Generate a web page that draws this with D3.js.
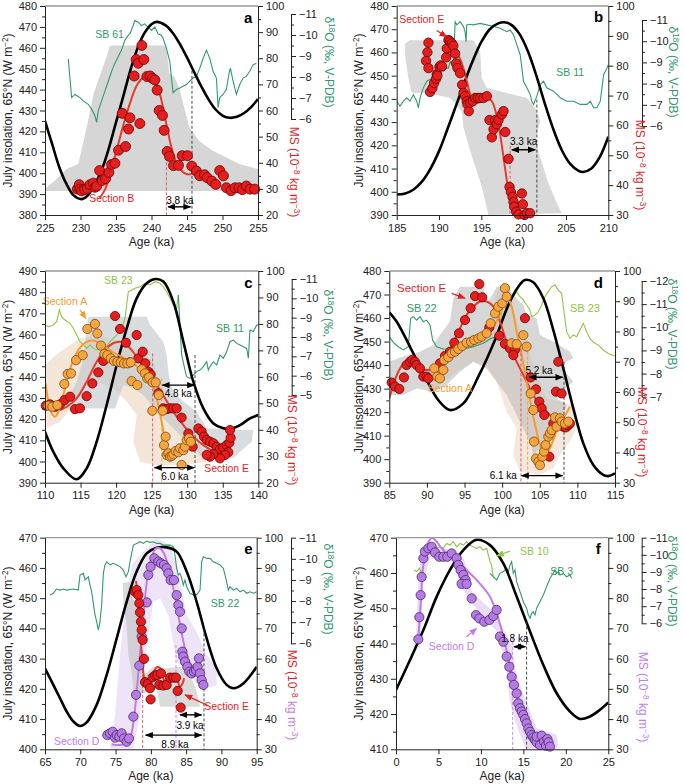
<!DOCTYPE html>
<html><head><meta charset="utf-8">
<script src="https://cdn.jsdelivr.net/npm/d3@7"></script>
<style>body{margin:0;background:#fff}text{font-family:"Liberation Sans",Arial,sans-serif}</style>
</head><body><svg id="c" width="685" height="784"></svg>
<script>
// ================= DATA =================
// Panel a
const a_insol=[[225,425],[226,414],[227,403],[228,395],[229,389.5],[230.2,387.6],[231,389.3],[232,394.5],[233,401.6],[234,412],[235,424.3],[236,436.5],[237,449],[238,459.5],[239,467],[240,471.3],[240.7,472.4],[242,470.7],[243,467.1],[244,461.8],[245,455.4],[246,448.4],[247,441.6],[248,435.5],[249,430.6],[250,427.6],[251,426.5],[252,427],[253,428.7],[254,431.5],[255,435.5]];
const a_sb61=[[228.28,-8.86],[228.75,-7.02],[229.22,-7.17],[229.92,-7.02],[230.39,-6.86],[231.09,-6.7],[231.56,-6.47],[232.03,-6.16],[232.27,-5.84],[232.5,-6.39],[232.97,-6.86],[233.44,-7.33],[233.91,-7.8],[234.38,-8.27],[234.85,-8.66],[235.31,-8.97],[235.78,-9.28],[236.25,-9.75],[236.72,-9.98],[236.96,-10.06],[237.42,-10.45],[237.66,-10.69],[238.13,-10.61],[238.6,-10.45],[239.06,-10.53],[239.53,-10.38],[240.0,-10.22],[240.47,-10.38],[240.94,-10.06],[241.41,-9.98],[241.64,-9.83],[242.11,-9.36],[242.58,-8.73],[242.81,-7.95],[243.05,-7.25],[243.52,-7.41],[243.99,-7.48],[244.46,-7.56],[244.92,-7.64],[245.39,-7.8],[245.86,-7.95],[246.33,-8.03],[246.8,-8.42],[247.27,-8.89],[247.74,-9.28],[248.21,-8.89],[248.68,-8.27],[249.14,-7.95],[249.38,-6.55],[249.61,-7.02],[250.08,-7.17],[250.55,-7.41],[250.93,-8.19],[251.11,-8.42],[251.49,-7.8],[251.96,-7.17],[252.43,-7.64],[252.9,-7.95],[253.36,-8.03],[253.83,-8.27],[254.3,-8.58],[254.77,-8.66]];
const a_ptsB=[[229.55,29.9],[229.83,31.6],[229.92,29.9],[230.16,29.2],[230.58,29.7],[230.95,30.1],[231.33,31.6],[231.8,32.2],[232.03,30.6],[232.27,31.0],[232.69,37.0],[233.06,33.2],[233.53,33.9],[234.0,36.3],[234.38,39.3],[234.85,39.8],[235.36,44.8],[235.88,58.9],[236.35,46.2],[236.77,52.9],[236.96,57.2],[237.56,73.2],[237.85,79.5],[238.13,78.1],[238.36,55.0],[238.64,84.9],[238.92,79.5],[239.35,73.0],[239.81,73.2],[240.14,72.3],[240.47,71.7],[240.8,67.8],[241.08,60.0],[241.55,58.1],[241.78,52.4],[242.2,44.3],[242.53,42.4],[243.1,38.9],[243.8,39.0],[244.32,42.7],[245.07,42.7],[245.68,38.7],[246.33,36.8],[246.8,35.0],[247.46,35.4],[247.83,34.3],[248.49,33.0],[249.05,31.7],[249.61,37.0],[250.13,35.0],[250.55,30.4],[251.2,29.3],[251.77,30.4],[252.33,30.4],[252.8,29.7],[253.36,31.1],[253.88,29.9],[254.54,29.9]];
const a_fitB=[[232.7,26.5],[233.5,30],[234.3,37],[235.2,46],[236.1,55],[237,63],[237.9,69.5],[238.8,72.5],[239.6,73],[240.4,71.5],[241.2,66],[242,56],[242.8,46],[243.6,39.5],[244.4,36.5],[245.2,35.5],[245.9,36]];
const a_shade=[[225,392.6],[226.41,396.5],[228.05,402.0],[229.69,404.4],[230.86,421.7],[231.8,437.5],[232.74,446.9],[233.67,455.6],[234.14,461.1],[242.05,461.1],[242.52,447.7],[243.22,446.1],[243.92,440.6],[244.63,431.2],[245.33,421.7],[246.74,415.4],[248.61,410.7],[250.49,407.6],[252.36,404.4],[255,402.0],[255,391.5],[225,391.5]];

// Panel b
const b_insol=[[185,398.8],[186,399.3],[187,401],[188,404.5],[189,410],[190,417.5],[191,427],[192,437],[193,447],[194,456.5],[195,464.5],[196,470],[197,472.5],[197.7,473],[198.5,472],[199.5,468],[200.5,460.5],[201.5,450],[202.5,438],[203.5,427],[204.5,418],[205.5,412],[206.5,409],[207,408.5],[208,410],[209,415],[210,423.7]];
const b_sb11=[[185,-7.17],[185.39,-6.94],[185.79,-7.17],[186.18,-7.33],[186.58,-7.17],[186.97,-7.48],[187.37,-7.17],[187.56,-6.86],[187.76,-7.33],[188.15,-7.8],[188.55,-8.11],[188.94,-8.19],[189.34,-8.27],[189.73,-8.42],[190.13,-8.73],[190.52,-8.58],[190.91,-8.73],[191.11,-8.73],[191.31,-9.05],[191.7,-8.73],[191.9,-10.92],[192.1,-10.77],[192.49,-10.92],[192.89,-10.69],[193.08,-10.45],[193.2,-9.98],[193.28,-10.77],[193.68,-10.8],[194.07,-10.77],[194.86,-10.84],[195.65,-10.77],[196.44,-10.69],[197.22,-10.61],[198.01,-10.45],[198.41,-10.53],[198.8,-10.3],[199.2,-9.83],[199.59,-9.36],[199.79,-8.73],[199.98,-8.11],[200.38,-7.8],[200.77,-7.48],[200.97,-7.17],[201.17,-7.02],[201.56,-7.41],[201.96,-7.95],[202.35,-8.11],[202.74,-7.8],[203.53,-7.64],[204.32,-7.33],[205.11,-7.17],[205.9,-7.17],[206.69,-7.02],[207.48,-7.02],[207.87,-7.17],[208.27,-6.86],[208.66,-6.86],[209.05,-7.17],[209.45,-8.42],[209.84,-8.73],[210,-8.89]];
const b_ptsE=[[188.75,87.7],[188.63,84.5],[188.47,81.6],[188.75,79.2],[188.94,71.2],[189.22,72.5],[189.42,74.2],[189.65,75.6],[189.73,77.2],[189.81,76.7],[190.05,79.6],[190.2,80.1],[190.36,79.8],[190.84,82.8],[190.91,85.8],[191.11,88.6],[191.31,88.2],[191.51,87.5],[191.7,86.7],[191.9,84.1],[192.02,80.8],[192.18,79.2],[192.49,77.5],[192.73,73.6],[192.89,70.9],[193.08,69.8],[193.28,68.1],[193.36,67.0],[193.52,64.8],[193.68,67.6],[193.99,68.1],[194.27,69.2],[194.58,69.2],[194.86,69.2],[195.25,69.2],[195.65,69.8],[195.96,61.8],[196.24,56.0],[196.44,58.7],[196.63,61.8],[196.83,60.4],[197.03,61.8],[197.42,63.7],[197.62,64.8],[197.82,57.8],[198.21,48.8],[198.33,39.4],[198.49,37.7],[198.68,36.1],[198.8,34.4],[198.88,32.8],[199.12,31.1],[199.39,30.2],[199.79,37.2],[199.91,33.6],[200.1,30],[200.38,30.6],[200.77,30.6]];
const b_fitE=[[190.91,83.6],[191.51,84.9],[192.1,84.1],[192.69,80.8],[193.28,74.8],[193.87,69.2],[194.46,67.6],[195.06,68.1],[195.65,69.2],[196.24,68.1],[196.83,63.1],[197.22,57.1],[197.62,49.3],[198.01,41.6],[198.4,35.0],[198.8,30]];
const b_shade=[[185.99,463.9],[186.58,465.3],[194.07,465.3],[194.86,460.3],[195.06,449.0],[195.65,444.7],[200.38,440.4],[201.36,436.2],[201.96,430.5],[201.36,422.0],[201.96,414.9],[202.94,403.5],[204.12,393.6],[204.52,390.7],[195.84,390],[195.06,402.1],[193.68,417.7],[192.89,427.6],[192.69,434.7],[191.31,440.4],[188.55,442.6],[186.77,442.6],[186.38,449.0],[185.99,458.9]];

// Panel c
const c_insol=[[110,414.1],[111.17,404.6],[112.58,396.8],[114.45,391.6],[115.86,396.8],[117.27,409.4],[118.67,426.7],[120.08,445.6],[121.49,462.9],[122.89,477.1],[124.3,484.2],[125.47,486.2],[126.64,485],[128.05,475.5],[129.46,456.6],[130.86,437.7],[132.27,425.1],[133.68,418],[135.08,415.7],[136.02,415.4],[137.43,417.2],[138.83,420.4],[140,422]];
const c_sb23=[[110,-8.62],[110.47,-8.53],[111.17,-8.62],[111.64,-8.79],[112.02,-9.4],[112.34,-9.05],[112.81,-8.88],[113.52,-8.71],[113.98,-8.45],[114.45,-8.1],[114.92,-7.76],[115.39,-7.59],[115.86,-7.41],[116.33,-7.59],[116.8,-7.41],[117.27,-7.33],[117.74,-7.5],[118.2,-7.59],[118.67,-7.5],[119.14,-7.76],[119.61,-7.93],[120.08,-8.1],[120.55,-8.36],[121.02,-8.71],[121.25,-8.97],[121.72,-10.34],[122.19,-10.43],[122.66,-10.52],[123.36,-10.6],[124.06,-10.78],[124.77,-10.69],[125.47,-10.86],[126.17,-10.78],[126.64,-10.6],[127.11,-10.34],[127.58,-10.0],[128.05,-9.66],[128.52,-9.48],[128.75,-10.17]];
const c_sb11=[[128.75,-10.17],[129.22,-7.07],[129.69,-6.29],[129.93,-5.95],[130.39,-5.86],[130.86,-6.03],[131.33,-6.21],[131.8,-6.29],[132.27,-6.47],[132.74,-6.72],[132.97,-6.29],[133.21,-6.47],[133.68,-6.72],[134.14,-6.55],[134.61,-7.07],[135.08,-6.9],[135.55,-7.24],[136.02,-7.76],[136.49,-7.84],[136.96,-7.67],[137.43,-7.59],[137.9,-7.5],[138.36,-7.41],[138.6,-6.9],[138.83,-8.36],[139.3,-8.28],[139.77,-8.62],[140,-8.62]];
const c_ptsA=[[110.47,49.1],[111.03,48.7],[111.73,49.3],[112.72,57.3],[113.19,61.1],[113.66,61.3],[114.36,66.3],[115.3,68.2],[115.95,78.1],[117.03,80.0],[117.36,76.4],[117.88,71.8],[118.35,68.7],[118.77,68.2],[119.24,67.0],[119.7,66.0],[120.17,65.7],[120.64,65.5],[121.11,65.1],[121.58,65.1],[122.05,65.5],[122.19,58.4],[122.99,56.9],[123.6,62.8],[124.06,61.3],[124.39,59.4],[124.63,59.8],[125.1,47.2],[125.14,57.9],[125.57,57.9],[125.99,53.1],[126.55,47.2],[126.74,34.2],[126.97,37.4],[127.11,30.5],[127.35,31.1],[127.58,29.8],[127.82,30.1],[128.05,30.7],[128.38,32.0],[128.75,31.5],[128.99,33.0],[129.22,26.7],[129.46,32.3],[129.69,33.6],[129.93,36.1],[130.25,36.8],[130.49,35.5]];
const c_ptsE=[[110.1,49.1],[110.7,49.6],[111.41,48.7],[112.11,49.6],[112.72,51.2],[113.52,52.5],[114.22,47.8],[114.92,48.1],[115.86,52.7],[116.66,57.5],[117.5,61.7],[118.2,66.0],[119.85,83.0],[120.55,78.1],[121.39,72.9],[121.95,65.5],[122.89,75.8],[123.13,67.0],[123.74,69.5],[124.11,65.1],[124.53,61.9],[124.86,60.9],[125.94,53.8],[126.64,48.1],[127.11,47.8],[127.58,48.1],[128.05,48.1],[128.52,48.1],[129.22,44.6],[130.16,38.6],[130.77,33.6],[131.57,40.5],[132.03,39.3],[132.36,37.4],[132.74,36.1],[133.21,35.5],[133.68,34.9],[134.14,33.6],[134.61,32.7],[135.08,33.2],[135.55,34.2],[135.93,35.1],[136.11,37.0],[136.02,39.9],[135.78,31.5],[135.32,30.5],[134.61,29.2],[133.68,30.8],[133.21,29.8],[132.74,30.5]];
const c_fitA=[[110.09,57.5],[110.47,50.6],[110.94,46.2],[111.41,44.9],[111.88,46.8],[112.58,53.1],[113.28,60.7],[113.98,66.3],[114.69,70.1],[115.39,72.3],[116.09,73.5],[116.8,73.7],[117.5,73.0],[118.44,71.4],[119.61,69.2],[120.78,67.6],[121.95,65.7],[123.13,63.5],[124.3,60.7],[125.0,58.2],[125.47,54.4],[125.94,49.3],[126.41,43.0],[126.88,35.5]];
const c_fitE=[[110.23,48.7],[111.17,47.5],[112.11,47.5],[113.05,48.7],[114.45,51.9],[115.86,58.2],[117.27,65.7],[118.67,70.8],[119.85,73.0],[121.02,73.0],[122.19,70.1],[123.36,65.7],[124.53,61.9],[125.71,56.9],[126.88,51.9],[128.05,46.8],[129.46,41.8],[130.86,37.4],[132.27,34.2],[133.68,32.0],[134.61,31.7],[135.55,33.6],[136.25,36.1]];
const c_shadeE=[[112.34,425.9],[113.52,431.4],[114.45,437.7],[115.39,448.7],[116.09,468.4],[124.3,468.4],[124.77,464.5],[125.71,460.6],[126.64,456.6],[127.11,450.3],[127.35,442.4],[127.58,437.7],[128.05,433.0],[129.46,428.3],[131.33,423.5],[132.74,415.7],[139.3,414.9],[139.07,409.4],[137.43,404.6],[136.49,401.5],[133.68,401.2],[131.8,403.1],[129.92,409.4],[128.05,415.7],[125.71,423.5],[123.83,431.4],[122.42,434.6],[121.02,436.1],[119.85,425.1],[113.05,425.1]];
const c_shadeA=[[110,445.6],[112.11,451.9],[114.92,458.2],[117.74,459.8],[120.55,456.6],[123.36,451.9],[125.24,447.2],[126.17,436.1],[127.11,428.3],[128.99,423.5],[130.86,418.8],[131.8,407.8],[132.74,399.9],[128.99,398.3],[126.17,398.0],[123.36,399.9],[122.42,409.4],[122.89,422.0],[121.49,428.3],[119.61,434.6],[117.27,437.7],[115.39,436.1],[113.98,426.7],[112.11,418.8],[110.23,415.7]];

// Panel d
const d_insol=[[85,462.4],[85.97,458.5],[87.97,446.4],[89.74,435.1],[91.51,425.1],[93.06,420.9],[94.84,423.7],[96.83,435.1],[99.05,450.7],[100.82,465.5],[102.15,473.3],[103.03,476.2],[104.14,475.2],[105.47,468.4],[106.8,454.9],[108.13,438.6],[109.46,421.6],[110.79,406.7],[112.12,397.5],[113.44,393.3],[114.11,392.8],[115,394.0]];
const d_sb22=[[85,-9.59],[85.53,-9.35],[86.2,-9.16],[86.86,-9.02],[87.53,-9.16],[87.84,-10.39],[88.19,-10.46],[88.63,-10.31],[89.08,-10.46],[89.52,-10.24],[89.96,-10.31],[90.41,-10.1],[90.76,-9.45],[91.29,-9.16],[92.18,-9.06],[93.06,-9.05],[94.39,-9.02],[96.17,-9.16],[97.49,-9.31],[98.38,-9.49],[99.05,-9.59],[99.49,-9.67]];
const d_sb23=[[99.27,-9.45],[99.71,-9.81],[100.15,-11.32],[100.6,-11.47],[101.04,-11.39],[101.48,-11.32],[101.93,-11.54],[102.37,-11.32],[102.81,-11.18],[103.25,-10.96],[103.7,-10.75],[103.92,-10.46],[104.36,-10.53],[104.8,-10.67],[105.25,-10.96],[105.69,-11.32],[106.13,-11.54],[106.58,-11.76],[107.02,-11.83],[107.46,-11.61],[107.91,-11.47],[108.22,-10.67],[108.57,-9.81],[109.01,-9.52],[109.46,-9.67],[109.9,-9.59],[110.34,-9.88],[110.79,-10.17],[111.23,-9.81],[111.67,-9.52],[112.12,-9.35],[112.78,-9.23],[113.44,-9.02],[114.11,-8.87],[115,-8.76]];
const d_ptsE=[[85.31,63.1],[85.75,61.8],[86.33,61.0],[86.95,64.8],[87.3,68.9],[87.75,70.0],[88.06,70.6],[88.41,70.0],[88.63,68.9],[89.08,67.8],[89.52,65.1],[89.96,65.1],[90.18,64.5],[91.73,69.5],[92.4,71.9],[93.06,73.3],[93.64,76.3],[94.26,79.4],[95.06,83.8],[95.81,87.7],[96.39,91.7],[96.96,95.7],[97.36,91.3],[98.29,81.3],[99.62,78.6],[100.37,75.9],[101.04,74.4],[101.7,73.9],[101.48,72.2],[103.03,84.4],[103.79,64.8],[104.5,60.9],[104.94,56.8],[105.25,54.6],[105.6,52.4],[107.15,60.1],[107.91,59.5],[107.46,70.0],[106.8,49.6],[108.13,48.5],[108.48,48.3],[108.79,49.1],[109.01,49.6],[106.27,38.6]];
const d_ptsA=[[90.98,67.8],[91.38,65.1],[91.73,64.5],[92.18,67.3],[92.31,70.6],[92.84,71.5],[93.29,72.8],[93.73,73.3],[94.17,74.2],[94.7,75.2],[95.28,76.3],[95.86,76.6],[96.3,77.2],[96.83,77.7],[97.27,78.3],[97.94,79.4],[98.47,82.7],[99.05,86.0],[99.49,88.2],[100.02,89.3],[100.37,94.3],[100.6,91.5],[101.26,76.1],[101.93,75.8],[102.81,78.8],[103.25,75.0],[103.79,59.5],[104.14,54.0],[104.23,43.6],[104.5,38.0],[104.81,36.9],[105.03,35.8],[105.34,38.6],[105.56,40.3],[105.78,42.5],[106.13,45.2],[106.36,46.3],[106.58,47.4],[107.02,51.6],[107.24,48.5],[107.68,51.3],[107.91,50.2],[108.35,49.6],[108.79,50.2]];
const d_fitE=[[85,57.9],[85.53,62.3],[86.2,66.7],[87.08,70.0],[87.75,70.6],[88.41,69.5],[89.08,67.3],[89.96,67.3],[90.85,67.3],[91.73,68.9],[92.62,72.2],[93.51,76.4],[94.39,81.0],[95.28,85.5],[96.17,88.2],[97.05,89.9],[97.94,89.9],[98.82,88.2],[99.71,83.3],[100.6,76.6],[101.48,72.2],[102.37,67.8],[103.25,63.4],[104.14,59.0],[105.03,55.7],[105.91,53.5],[106.8,51.3],[107.68,50.2],[108.57,49.6],[109.46,49.1]];
const d_fitA=[[90.63,67.3],[91.73,67.8],[93.06,71.7],[94.39,73.9],[95.72,75.5],[97.05,77.2],[98.38,79.9],[99.27,83.3],[100.15,88.8],[100.68,91.2],[101.26,88.2],[101.93,79.9],[102.59,72.2],[103.25,63.4],[103.92,54.6],[104.58,46.9],[105.03,42.5],[105.56,40.0],[106.13,40.5],[106.8,44.1],[107.46,48.5],[108.13,51.3],[109.01,55.1]];
const d_shadeE=[[85,441.4],[86.86,443.6],[89.08,445.7],[90.85,448.5],[91.73,452.8],[93.06,458.5],[93.51,468.4],[94.39,473.3],[97.49,473.3],[97.94,466.2],[98.82,470.5],[99.27,473.3],[100.6,473.3],[101.48,469.8],[102.81,465.5],[103.25,461.3],[104.58,459.9],[105.03,452.8],[106.8,450.0],[109.01,445.7],[109.46,442.9],[107.68,440.0],[109.46,432.9],[107.68,428.7],[107.24,425.9],[108.57,423.0],[108.13,418.8],[106.8,413.1],[105.91,407.4],[104.14,401.8],[103.7,407.4],[102.37,415.9],[101.48,421.6],[100.6,427.3],[99.27,432.9],[97.94,438.6],[96.17,441.4],[94.39,437.2],[92.62,431.5],[90.85,428.7],[88.63,430.1],[86.86,427.3],[85.09,427.3]];
const d_shadeA=[[90.41,440.0],[91.73,442.9],[93.51,447.1],[95.28,451.4],[97.05,454.2],[97.94,457.0],[98.82,464.1],[99.27,471.2],[100.15,475.5],[101.04,474.0],[101.48,464.1],[102.37,455.6],[103.25,448.5],[104.14,440.0],[105.03,432.9],[105.91,425.9],[107.68,424.4],[109.46,423.0],[109.9,413.1],[109.01,407.4],[107.68,401.8],[106.8,396.1],[105.03,393.3],[102.37,394.7],[101.48,401.8],[101.93,413.1],[100.6,420.2],[99.27,432.9],[97.94,440.0],[96.17,441.4],[93.95,437.2],[92.18,432.9],[90.85,430.1]];

// Panel e
const e_insol=[[65,426.8],[66.18,421.3],[67.13,416.9],[68.07,412.5],[69.02,409.2],[69.96,407.7],[70.9,408.9],[72.32,414.7],[73.74,424.6],[75.16,436.7],[76.57,448.8],[77.99,458.8],[79.41,464.8],[80.82,466.7],[82.24,466.8],[83.66,465.4],[85.08,458.8],[86.49,448.8],[87.91,436.7],[89.33,426.8],[90.74,421.3],[91.69,420.2],[93.11,421.8],[95,427.3]];
const e_sb22=[[65.71,-8.29],[66.18,-8.37],[66.65,-8.57],[67.13,-8.52],[67.6,-8.57],[68.07,-8.52],[69.02,-8.57],[69.72,-8.52],[69.96,-9.23],[70.43,-9.31],[70.67,-9.0],[71.14,-9.15],[71.38,-8.76],[71.61,-8.44],[71.85,-7.89],[72.09,-7.34],[72.32,-7.03],[72.56,-6.63],[72.79,-7.03],[73.03,-7.81],[73.27,-9.31],[73.5,-9.71],[73.74,-9.86],[74.21,-9.71],[74.68,-9.79],[75.16,-9.71],[75.63,-9.63],[76.1,-9.47],[76.48,-9.15],[76.81,-9.39],[77.05,-9.86],[77.52,-10.65],[77.99,-10.73],[78.46,-10.81],[78.93,-10.73],[79.41,-10.84],[79.88,-10.78],[80.35,-10.81],[80.82,-10.73],[81.3,-10.73],[81.77,-10.65],[82.24,-10.65],[82.71,-10.65],[83.19,-10.57],[83.42,-10.18],[83.66,-9.55],[83.89,-9.23],[84.13,-9.31],[84.37,-9.08],[84.6,-8.76],[84.84,-9.0],[85.08,-8.68],[85.55,-8.37],[86.02,-8.29],[86.49,-8.29],[86.97,-8.52],[87.2,-9.86],[87.44,-10.1],[87.91,-10.02],[88.38,-10.02],[88.85,-9.86],[89.33,-9.79],[89.8,-9.71],[90.27,-9.55],[90.74,-8.92],[90.98,-8.52],[91.22,-8.68],[91.69,-8.52],[92.16,-8.6],[92.63,-8.44],[93.11,-8.52],[93.58,-8.37],[94.05,-8.44],[94.52,-8.37],[95,-8.44]];
const e_ptsD=[[73.83,34.7],[74.21,35.3],[74.59,35.8],[74.92,33.9],[75.16,34.7],[75.53,34.2],[75.86,35.3],[76.2,33.6],[76.57,32.5],[76.9,33.6],[77.52,40.8],[77.9,48.0],[78.37,57.7],[78.7,67.3],[79.41,78.6],[79.64,87.7],[79.97,90.4],[80.49,93.2],[81.06,92.1],[81.44,91.5],[81.86,91.0],[82.24,89.9],[82.48,88.2],[82.81,86.0],[83.28,86.0],[83.66,81.0],[83.89,77.7],[84.13,75.5],[84.37,70.0],[84.46,62.3],[84.6,60.7],[84.84,59.0],[85.17,57.3],[85.45,55.7],[85.78,55.1],[86.11,55.7],[86.4,56.2],[86.63,57.3],[86.82,60.1],[86.97,55.1],[87.2,52.9],[87.44,51.3]];
const e_ptsE=[[77.75,82.1],[77.99,82.7],[78.23,81.0],[78.37,78.3],[78.46,75.3],[78.6,72.2],[78.7,69.5],[78.84,66.2],[79.03,59.9],[79.17,52.2],[79.55,51.6],[79.88,50.2],[79.97,46.5],[80.26,53.8],[80.59,54.4],[80.92,54.6],[81.2,51.3],[81.44,55.1],[81.77,51.1],[82.24,51.3],[82.71,53.7],[83.19,53.7],[83.56,53.7],[83.8,49.3],[84.23,43.8]];
const e_fitE=[[77.9,85.7],[78.13,81.0],[78.37,74.4],[78.6,65.6],[78.84,57.9],[79.12,52.9],[79.5,51.5],[79.97,52.9],[80.45,55.9],[80.92,57.2],[81.39,56.6],[81.86,52.9],[82.34,51.1],[82.81,52.4],[83.28,54.3],[83.75,52.9],[84.13,50.7],[84.51,51.8],[84.7,53.5]];
const e_fitD=[[74.45,31.7],[75.63,31.4],[76.57,32.0],[77.14,34.2],[77.61,40.3],[78.08,51.3],[78.56,64.5],[79.03,76.6],[79.5,86.6],[80.12,93.7],[80.73,96.5],[81.3,96.5],[81.86,94.8],[82.48,90.4],[83.09,84.4],[83.66,77.7],[84.23,70.0],[84.84,63.4],[85.45,59.0],[86.02,57.3],[86.59,57.3]];
const e_shadeD=[[74.21,400.3],[74.92,411.4],[75.63,431.2],[76.34,446.6],[77.28,461.0],[78.46,464.3],[80.82,469.8],[82.71,467.6],[83.66,461.0],[85.08,444.4],[86.49,438.9],[87.91,431.2],[89.33,426.8],[89.33,421.3],[87.91,420.2],[86.97,420.2],[85.08,425.7],[83.66,429.0],[82.48,444.4],[81.3,449.9],[80.35,448.8],[79.41,433.4],[78.46,411.4],[77.52,400]];
const e_shadeE=[[76.01,454.9],[77.05,455.5],[77.52,449.4],[77.99,448.8],[78.46,431.2],[79.03,424.6],[80.35,427.3],[82.24,426.8],[84.13,427.3],[85.55,425.1],[86.49,419.1],[86.97,414.1],[81.3,414.1],[80.82,420.2],[78.93,418.5],[77.52,419.1],[77.28,425.7],[76.81,431.2],[76.57,441.1],[76.1,448.8]];

// Panel f
const f_insol=[[0,426.8],[1.65,435.3],[3.22,443.8],[4.79,453.3],[6.36,460.9],[7.93,466.5],[9.5,469.4],[11.07,467.9],[12.64,462.7],[14.21,453.3],[15.78,443.4],[17.35,433.9],[18.92,425.9],[20.49,420.7],[21.66,418.6],[22.84,419.3],[24.02,421.2],[25,423.3]];
const f_sb10=[[2.12,-9.11],[2.43,-9.02],[2.75,-9.21],[3.02,-8.92],[3.22,-9.4],[3.41,-9.6],[3.61,-10.18],[3.92,-10.28],[4.2,-10.38],[4.59,-10.38],[5.18,-10.47],[5.57,-10.38],[5.97,-10.67],[6.36,-10.57],[6.75,-10.77],[7.14,-10.47],[7.54,-10.67],[7.93,-10.57],[8.32,-10.77],[8.71,-10.57],[9.11,-10.47],[9.5,-10.38],[9.89,-10.47],[10.28,-10.28],[10.68,-10.38],[10.87,-9.99],[11.07,-9.6],[11.26,-9.4],[11.38,-8.92],[11.54,-8.63]];
const f_sb3=[[11.07,-8.92],[11.46,-8.72],[11.85,-8.53],[12.24,-8.92],[12.64,-9.02],[13.03,-9.21],[13.23,-9.02],[13.42,-9.4],[13.62,-9.6],[13.81,-8.92],[14.01,-9.11],[14.21,-8.43],[14.6,-7.85],[14.99,-7.26],[15.38,-6.88],[15.58,-6.49],[15.78,-6.29],[15.97,-6.58],[16.17,-6.68],[16.37,-6.49],[16.56,-6.88],[16.95,-7.26],[17.35,-7.65],[17.74,-8.14],[18.13,-8.63],[18.52,-8.92],[18.72,-9.11],[18.92,-8.92],[19.11,-9.02],[19.31,-8.82],[19.7,-8.92],[20.09,-8.72],[20.49,-8.82],[20.68,-8.63]];
const f_ptsD=[[2.63,66.4],[2.75,73.7],[2.9,81.0],[3.02,87.0],[3.22,93.2],[3.41,95.4],[3.81,96.5],[4.2,97.0],[4.59,95.1],[5.1,93.7],[5.57,93.7],[6.04,93.7],[6.55,94.8],[7.14,93.2],[7.34,91.0],[7.61,89.3],[7.93,87.7],[8.2,86.0],[7.73,84.7],[8.32,84.7],[8.91,79.9],[9.42,74.4],[9.81,73.3],[10.4,72.2],[10.99,72.8],[11.46,74.1],[11.85,76.1],[12.24,67.3],[12.64,65.6],[13.03,60.7],[13.34,57.3],[13.62,54.0],[13.89,51.3],[14.21,48.5],[14.4,45.2],[14.6,43.6],[14.8,42.5],[14.99,41.4],[15.19,40.0],[15.38,38.6],[15.58,36.9],[15.78,35.8],[15.97,34.7],[16.17,33.9],[16.37,33.1],[16.56,32.3],[16.56,34.2],[16.95,31.4],[17.15,34.5],[17.43,32.5],[17.66,31.2],[17.82,33.4],[17.97,32.3],[18.13,30.9]];
const f_fitD=[[2.63,66.7],[2.9,77.7],[3.22,91.0],[3.69,97.6],[4.2,100.0],[4.79,98.7],[5.38,96.5],[6.16,94.5],[6.95,93.7],[7.93,90.4],[9.5,86.0],[11.07,80.5],[11.85,75.0],[12.44,69.5],[12.91,64.0],[13.42,57.9],[14.01,50.2],[14.6,42.5],[15.19,37.5],[15.78,34.2],[16.56,32.0],[17.54,30.9],[18.52,30.7]];
const f_shadeD=[[2.35,440.5],[2.51,451.9],[2.83,463.2],[3.69,468.1],[5.18,467.5],[7.14,465.6],[7.93,464.2],[8.52,460.4],[8.91,454.7],[11.85,448.1],[13.03,442.4],[13.62,439.6],[14.01,433.0],[14.6,428.2],[15.38,423.5],[16.56,416.0],[18.92,414.1],[19.11,411.2],[18.52,409.3],[15.38,409.8],[14.6,414.1],[13.81,419.7],[13.42,423.5],[13.03,432.0],[12.64,436.7],[11.85,443.4],[9.11,450.9],[8.32,453.8],[7.54,456.1],[6.75,463.2],[5.18,463.7],[4.0,464.2],[3.22,457.5],[3.02,447.1],[2.83,438.6]];

// Tick values
const ticksA_x=[225,230,235,240,245,250,255], ticksB_x=[185,190,195,200,205,210], ticksC_x=[110,115,120,125,130,135,140], ticksD_x=[85,90,95,100,105,110,115], ticksE_x=[65,70,75,80,85,90,95], ticksF_x=[0,5,10,15,20,25];

// ================= DRAWING =================
const COL={red:'#e41e1e',redS:'#6d0000',redL:'#e8392b',orange:'#f7a540',orangeS:'#7a4a0c',orangeL:'#f89a2c',purple:'#b47ce2',purpleS:'#4b2470',purpleL:'#c27cea',green:'#2f9a6a',lgreen:'#8dc641'};
const svg=d3.select('#c');
const defs=svg.append('defs');
const markers={};
const fmt=d3.format('d');
function marker(color){
  if(markers[color]) return markers[color];
  const id='m'+Object.keys(markers).length;
  defs.append('marker').attr('id',id).attr('viewBox','0 0 10 10').attr('refX',9).attr('refY',5)
    .attr('markerUnits','userSpaceOnUse').attr('markerWidth',8).attr('markerHeight',8).attr('orient','auto-start-reverse')
    .append('path').attr('d','M0,1 L10,5 L0,9 Z').attr('fill',color);
  markers[color]=`url(#${id})`; return markers[color];
}
function rich(g,x,y,rot,parts,color,size){
  const t=g.append('text').attr('transform',`translate(${x},${y}) rotate(${rot})`).attr('text-anchor','middle')
    .attr('dy','0.35em').attr('font-size',size).attr('fill',color);
  parts.forEach(p=>{const s=t.append('tspan').text(p.t); if(p.sup) s.attr('baseline-shift','super').attr('font-size',size*0.68); if(p.c) s.attr('fill',p.c);});
}
function range(a,b,s){const r=[];for(let v=a;v<=b+1e-9;v+=s)r.push(+v.toFixed(3));return r;}

function panel(P){
  const g=svg.append('g');
  const x=d3.scaleLinear().domain(P.xDom).range([P.x0,P.x1]);
  const yL=d3.scaleLinear().domain(P.wDom).range([P.y1,P.y0]);
  const yR=d3.scaleLinear().domain(P.msDom).range([P.y1,P.y0]);
  const yD=d3.scaleLinear().domain(P.dDom).range(P.dRange);
  const cid='clip'+P.id;
  defs.append('clipPath').attr('id',cid).append('rect').attr('x',P.x0).attr('y',P.y0).attr('width',P.x1-P.x0).attr('height',P.y1-P.y0);
  const pg=g.append('g').attr('clip-path',`url(#${cid})`);
  const lw=d3.line().x(d=>x(d[0])).y(d=>yL(d[1]));
  P.shades.forEach(s=>pg.append('path').attr('d',lw(s.data)+'Z').attr('fill',s.color).attr('fill-opacity',s.op));
  P.greens.forEach(s=>pg.append('path').attr('d',d3.line().x(d=>x(d[0])).y(d=>yD(d[1]))(s.data)).attr('fill','none').attr('stroke',s.color).attr('stroke-width',1.1));
  pg.append('path').attr('d',d3.line().curve(d3.curveCatmullRom).x(d=>x(d[0])).y(d=>yL(d[1]))(P.insol)).attr('fill','none').attr('stroke','#000').attr('stroke-width',2.6);
  P.vlines.forEach(v=>g.append('line').attr('x1',x(v.age)).attr('x2',x(v.age)).attr('y1',yL(v.w)).attr('y2',P.y1).attr('stroke',v.color).attr('stroke-width',0.9).attr('stroke-dasharray','3,2'));
  P.fits.forEach(f=>pg.append('path').attr('d',d3.line().curve(d3.curveCatmullRom).x(d=>x(d[0])).y(d=>yR(d[1]))(f.data)).attr('fill','none').attr('stroke',f.color).attr('stroke-width',2));
  P.pts.forEach(s=>g.append('g').selectAll('circle').data(s.data).join('circle').attr('cx',d=>x(d[0])).attr('cy',d=>yR(d[1])).attr('r',P.r).attr('fill',s.fill).attr('stroke',s.stroke).attr('stroke-width',0.8));
  P.arrows.forEach(a=>g.append('line').attr('x1',x(a.a1)).attr('x2',x(a.a2)).attr('y1',yL(a.w)).attr('y2',yL(a.w)).attr('stroke','#000').attr('stroke-width',1.4).attr('marker-start',marker('#000')).attr('marker-end',marker('#000')));
  P.pointers.forEach(p=>g.append('line').attr('x1',x(p.f[0])).attr('y1',yL(p.f[1])).attr('x2',x(p.t[0])).attr('y2',yL(p.t[1])).attr('stroke',p.color).attr('stroke-width',1.2).attr('marker-end',marker(p.color)));
  P.labels.forEach(l=>g.append('text').attr('x',x(l.age)).attr('y',yL(l.w)).attr('dy','0.35em').attr('text-anchor',l.anchor||'middle')
    .attr('font-size',l.size||10.5).attr('font-weight',l.bold?'bold':null).attr('fill',l.color||'#000').text(l.text));
  g.append('line').attr('x1',P.x0).attr('x2',P.x1).attr('y1',P.y0).attr('y2',P.y0).attr('stroke','#999').attr('stroke-width',1.3);
  const style=sel=>{sel.attr('font-family','"Liberation Sans",Arial,sans-serif').attr('font-size',11);sel.selectAll('line,path').attr('stroke','#222');sel.selectAll('text').attr('fill','#222');};
  const wt=range(P.wDom[0],P.wDom[1],10), wm=range(P.wDom[0]+5,P.wDom[1],10);
  g.append('g').attr('transform',`translate(${P.x0},0)`).call(d3.axisLeft(yL).tickValues(wt).tickFormat(fmt).tickSize(5).tickSizeOuter(0).tickPadding(3)).call(style);
  g.append('g').attr('transform',`translate(${P.x0},0)`).call(d3.axisLeft(yL).tickValues(wm).tickSize(3).tickSizeOuter(0).tickFormat('')).call(style).select('.domain').remove();
  const mt=range(P.msDom[0],P.msDom[1],10), mm=range(P.msDom[0]+5,P.msDom[1],10);
  g.append('g').attr('transform',`translate(${P.x1},0)`).call(d3.axisRight(yR).tickValues(mt).tickFormat(fmt).tickSize(5).tickSizeOuter(0).tickPadding(3)).call(style);
  g.append('g').attr('transform',`translate(${P.x1},0)`).call(d3.axisRight(yR).tickValues(mm).tickSize(3).tickSizeOuter(0).tickFormat('')).call(style).select('.domain').remove();
  const lo=Math.min(...P.dDom), hi=Math.max(...P.dDom);
  g.append('g').attr('transform',`translate(${P.dX},0)`).call(d3.axisRight(yD).tickValues(range(lo,hi,1)).tickFormat(fmt).tickSize(5).tickSizeOuter(0).tickPadding(3)).call(style);
  g.append('g').attr('transform',`translate(${P.dX},0)`).call(d3.axisRight(yD).tickValues(range(lo+0.5,hi,1)).tickSize(3).tickSizeOuter(0).tickFormat('')).call(style).select('.domain').remove();
  g.append('g').attr('transform',`translate(0,${P.y1})`).call(d3.axisBottom(x).tickValues(P.xTicks).tickFormat(fmt).tickSize(5).tickSizeOuter(0).tickPadding(4)).call(style);
  g.append('text').attr('x',(P.x0+P.x1)/2).attr('y',P.y1+31).attr('text-anchor','middle').attr('font-size',12).attr('fill','#222').text('Age (ka)');
  rich(g,P.wTitleX,(P.y0+P.y1)/2,-90,[{t:'July insolation, 65°N (W m'},{t:'−2',sup:true},{t:')'}],'#222',12);
  rich(g,P.msT[0],P.msT[1],90,P.msParts,P.msColor,12);
  rich(g,P.dT[0],P.dT[1],90,[{t:'δ'},{t:'18',sup:true},{t:'O (‰, V-PDB)'}],COL.green,12);
}
const msParts=[{t:'MS (10'},{t:'−8',sup:true},{t:' kg m'},{t:'−3',sup:true},{t:')'}];
const RED={fill:COL.red,stroke:COL.redS}, ORA={fill:COL.orange,stroke:COL.orangeS}, PUR={fill:COL.purple,stroke:COL.purpleS};

panel({id:'a',x0:45,x1:258,y0:6,y1:215,xDom:[225,255],wDom:[380,480],msDom:[20,100],dDom:[-11,-6],dRange:[14,119],dX:291,xTicks:ticksA_x,r:5,
  wTitleX:8,msT:[294,172],dT:[329,62],msParts,msColor:COL.red,
  insol:a_insol,greens:[{data:a_sb61,color:COL.green}],shades:[{data:a_shade,color:'#d6d6d6',op:1}],
  fits:[{data:a_fitB,color:COL.redL}],pts:[{data:a_ptsB,...RED}],
  vlines:[{age:242.1,w:410,color:'#e34a4a'},{age:245.7,w:449,color:'#333'}],
  arrows:[{a1:242.35,a2:245.5,w:383.9}],pointers:[],
  labels:[{age:234.1,w:466.6,text:'SB 61',color:COL.green},{age:234.4,w:387.9,text:'Section B',color:COL.red},{age:244,w:387.1,text:'3.8 ka',size:10},{age:253.6,w:474.5,text:'a',bold:true,size:15}]});

panel({id:'b',x0:396.7,x1:608.3,y0:6,y1:215,xDom:[185,210],wDom:[390,480],msDom:[30,100],dDom:[-11,-6],dRange:[20,126],dX:642,xTicks:ticksB_x,r:4.7,
  wTitleX:359,msT:[640,165],dT:[673,72],msParts,msColor:COL.red,
  insol:b_insol,greens:[{data:b_sb11,color:COL.green}],shades:[{data:b_shade,color:'#d9d9d9',op:1}],
  fits:[{data:b_fitE,color:COL.redL}],pts:[{data:b_ptsE,...RED}],
  vlines:[{age:198.4,w:419.8,color:'#e34a4a'},{age:201.56,w:439.7,color:'#333'}],
  arrows:[{a1:198.6,a2:201.36,w:418.1}],pointers:[{f:[189.73,469.5],t:[190.91,466.7],color:COL.red}],
  labels:[{age:187.96,w:474.2,text:'Section E',color:COL.red},{age:205.5,w:451.5,text:'SB 11',color:COL.green},{age:200,w:421.5,text:'3.3 ka',size:10},{age:208.86,w:475.2,text:'b',bold:true,size:15}]});

panel({id:'c',x0:45,x1:258.3,y0:271,y1:482.7,xDom:[110,140],wDom:[390,490],msDom:[20,100],dDom:[-11,-5],dRange:[279,395],dX:291.7,xTicks:ticksC_x,r:4.6,
  wTitleX:8,msT:[292.5,440],dT:[328,335],msParts,msColor:COL.red,
  insol:c_insol,greens:[{data:c_sb23,color:COL.lgreen},{data:c_sb11,color:COL.green}],
  shades:[{data:c_shadeA,color:'#f1e2d2',op:0.85},{data:c_shadeE,color:'#bfc4ca',op:0.6}],
  fits:[{data:c_fitE,color:COL.redL},{data:c_fitA,color:COL.orangeL}],pts:[{data:c_ptsE,...RED},{data:c_ptsA,...ORA}],
  vlines:[{age:125.14,w:451.1,color:'#e34a4a'},{age:126.41,w:439.3,color:COL.orangeL},{age:131.1,w:450.3,color:'#333'}],
  arrows:[{a1:126.5,a2:131.0,w:436.1},{a1:125.4,a2:131.0,w:397.1}],pointers:[{f:[114.92,471.6],t:[115.77,467.6],color:COL.orangeL}],
  labels:[{age:112.81,w:475.5,text:'Section A',color:COL.orangeL},{age:120.31,w:485.7,text:'SB 23',color:COL.lgreen},{age:136.02,w:462.9,text:'SB 11',color:COL.green},
    {age:135.55,w:396.8,text:'Section E',color:COL.red},{age:128.75,w:432.2,text:'4.8 ka',size:10},{age:128.28,w:392.8,text:'6.0 ka',size:10},{age:138.6,w:484.6,text:'c',bold:true,size:15}]});

panel({id:'d',x0:389.3,x1:615,y0:271,y1:482.7,xDom:[85,115],wDom:[390,480],msDom:[30,100],dDom:[-12,-7],dRange:[281,396.7],dX:641.7,xTicks:ticksD_x,r:4.6,
  wTitleX:359,msT:[642,432],dT:[672,324],msParts,msColor:COL.red,
  insol:d_insol,greens:[{data:d_sb22,color:COL.green},{data:d_sb23,color:COL.lgreen}],
  shades:[{data:d_shadeA,color:'#f3e6da',op:0.9},{data:d_shadeE,color:'#bdbdbd',op:0.6}],
  fits:[{data:d_fitE,color:COL.redL},{data:d_fitA,color:COL.orangeL}],pts:[{data:d_ptsE,...RED},{data:d_ptsA,...ORA}],
  vlines:[{age:102.5,w:447.1,color:'#e34a4a'},{age:103.39,w:445.7,color:COL.orangeL},{age:108.22,w:441.4,color:'#333'}],
  arrows:[{a1:103.61,a2:108.04,w:434.8},{a1:102.59,a2:108.04,w:393}],pointers:[{f:[93.29,470.5],t:[95.06,468.4],color:COL.red}],
  labels:[{age:89.3,w:472.6,text:'Section E',color:COL.red,size:11.5},{age:89.3,w:464.1,text:'SB 22',color:COL.green,size:11},{age:111.0,w:464.1,text:'SB 23',color:COL.lgreen,size:11},
    {age:93.06,w:430.1,text:'Section A',color:COL.orangeL},{age:104.9,w:437.9,text:'5.2 ka',size:10},{age:100.15,w:393,text:'6.1 ka',size:10},{age:112.78,w:475.2,text:'d',bold:true,size:15}]});

panel({id:'e',x0:45,x1:256.7,y0:537.7,y1:749.3,xDom:[65,95],wDom:[400,470],msDom:[30,100],dDom:[-11,-6],dRange:[537.7,643.3],dX:291,xTicks:ticksE_x,r:4.6,
  wTitleX:8,msT:[292.5,695],dT:[328,589],msParts:[{t:'MS (10'},{t:'−8',sup:true},{t:' kg m',c:COL.purpleL},{t:'−3',sup:true,c:COL.purpleL},{t:')',c:COL.purpleL}],msColor:COL.red,
  insol:e_insol,greens:[{data:e_sb22,color:COL.green}],
  shades:[{data:e_shadeD,color:'#eee4f7',op:1},{data:e_shadeE,color:'#bdbdbd',op:0.55}],
  fits:[{data:e_fitD,color:COL.purpleL},{data:e_fitE,color:COL.redL}],pts:[{data:e_ptsD,...PUR},{data:e_ptsE,...RED}],
  vlines:[{age:78.84,w:427.9,color:'#e34a4a'},{age:83.56,w:434.5,color:COL.purpleL},{age:87.53,w:440,color:'#333'}],
  arrows:[{a1:84.13,a2:87.2,w:411.4},{a1:79.27,a2:87.2,w:404.7}],pointers:[{f:[88.15,414.4],t:[84.84,418.0],color:COL.red}],
  labels:[{age:69.49,w:402.5,text:'Section D',color:COL.purpleL},{age:90.74,w:414.1,text:'Section E',color:COL.red},{age:90.5,w:448.3,text:'SB 22',color:COL.green},
    {age:85.55,w:407.8,text:'3.9 ka',size:10},{age:83.42,w:401.7,text:'8.9 ka',size:10},{age:93.81,w:466.5,text:'e',bold:true,size:15}]});

panel({id:'f',x0:396,x1:608.3,y0:537.7,y1:749.3,xDom:[0,25],wDom:[410,470],msDom:[30,100],dDom:[-11,-6],dRange:[537.7,623.3],dX:641.7,xTicks:ticksF_x,r:4.6,
  wTitleX:359,msT:[643,697],dT:[672,581],msParts,msColor:COL.purpleL,
  insol:f_insol,greens:[{data:f_sb10,color:COL.lgreen},{data:f_sb3,color:COL.green}],
  shades:[{data:f_shadeD,color:'#eadcf5',op:1}],
  fits:[{data:f_fitD,color:COL.purpleL}],pts:[{data:f_ptsD,...PUR}],
  vlines:[{age:13.74,w:441.9,color:COL.purpleL},{age:15.38,w:446.2,color:'#333'}],
  arrows:[{a1:13.89,a2:15.23,w:439.1}],pointers:[{f:[8.32,441.9],t:[9.5,444.3],color:COL.purpleL},{f:[13.42,466.2],t:[11.85,464.8],color:COL.lgreen}],
  labels:[{age:14.6,w:466.2,text:'SB 10',color:COL.lgreen,anchor:'start'},{age:19.5,w:460.4,text:'SB 3',color:COL.green},{age:6.55,w:439.1,text:'Section D',color:COL.purpleL},
    {age:14.0,w:441.5,text:'1.8 ka',size:10},{age:23.82,w:467.0,text:'f',bold:true,size:15}]});
</script></body></html>
